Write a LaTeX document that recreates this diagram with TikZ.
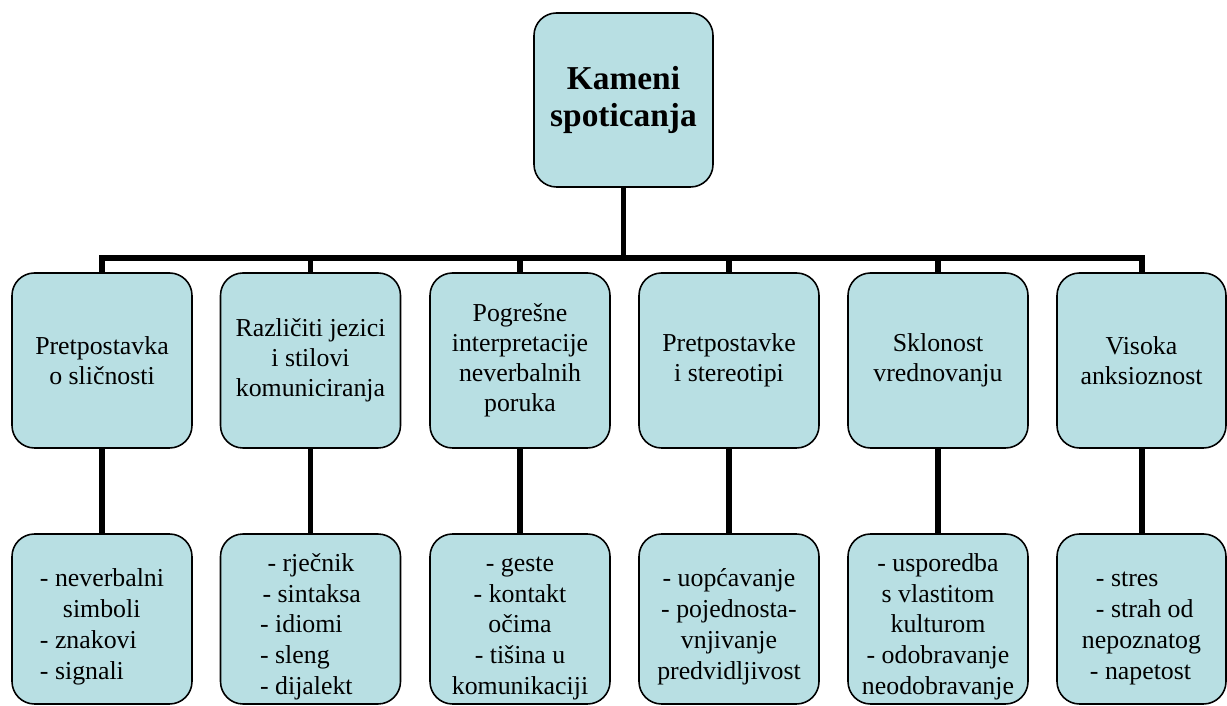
\documentclass[tikz,border=0pt]{standalone}
\usepackage{fontspec}
\setmainfont{Liberation Serif}
\definecolor{boxfill}{RGB}{184,223,227}
\newcommand{\leafstrut}{\rule{0pt}{19pt}}

\begin{document}
\begin{tikzpicture}[thick,
		box/.style={draw=black, line width=0.9pt, fill=boxfill, rounded corners=0.45cm,
			inner sep=0pt, minimum width=3.6cm, align=center,
			font=\fontsize{14.7pt}{17pt}\selectfont},
		leafbox/.style={box, minimum height=3.4cm, font=\fontsize{14.7pt}{17.6pt}\selectfont},
		link/.style={line width=3.4pt}]
	\useasboundingbox (0,0) rectangle (24.54,14.12);
	% root
	\node[box, minimum width=3.58cm, minimum height=3.48cm,
		font=\fontsize{19pt}{21.5pt}\selectfont\bfseries] (top) at (12.47,12.12) {Kameni\\spoticanja};
	
	% obstacles
	\node[box, minimum height=3.5cm] (m1) at (2.04,6.91) {Pretpostavka\\o sličnosti};
	\node[box, minimum height=3.5cm] (m2) at (6.21,6.91) {Različiti jezici\\i stilovi\\komuniciranja};
	\node[box, minimum height=3.5cm] (m3) at (10.40,6.91) {Pogrešne\\interpretacije\\neverbalnih\\poruka};
	\node[box, minimum height=3.5cm] (m4) at (14.58,6.91) {Pretpostavke\\i stereotipi};
	\node[box, minimum height=3.5cm] (m5) at (18.76,6.91) {Sklonost\\vrednovanju};
	\node[box, minimum height=3.5cm, minimum width=3.38cm] (m6) at (22.83,6.91) {Visoka\\anksioznost};
	
	% examples
	\node[leafbox, align=left] (b1) at (2.04,1.74) {\leafstrut- neverbalni\\\hspace*{0.46cm}simboli\\- znakovi\\- signali};
	\node[leafbox, align=left] (b2) at (6.21,1.74) {\leafstrut\hspace*{0.15cm}- rječnik\\\hspace*{0.05cm}- sintaksa\\- idiomi\\- sleng\\- dijalekt};
	\node[leafbox] (b3) at (10.40,1.74) {\leafstrut- geste\\- kontakt\\očima\\- tišina u\\komunikaciji};
	\node[leafbox] (b4) at (14.58,1.74) {\leafstrut- uopćavanje\\- pojednosta-\\vnjivanje\\predvidljivost};
	\node[leafbox] (b5) at (18.76,1.74) {\leafstrut- usporedba\\s vlastitom\\kulturom\\- odobravanje\\neodobravanje};
	\node[leafbox, minimum width=3.38cm, align=left] (b6) at (22.83,1.74) {\leafstrut\hspace*{0.28cm}- stres\\\hspace*{0.28cm}- strah od\\nepoznatog\\\hspace*{0.16cm}- napetost};
	
	% connectors
	\coordinate (bar) at (0,8.96);
	\draw[link] (top.south) -- (top.south |- bar);
	\draw[link] (m1.north) -- (m1.north |- bar) -- (m6.north |- bar) -- (m6.north);
	\foreach \i in {2,...,5}
		\draw[link] (m\i.north |- bar) -- (m\i.north);
	\foreach \i in {1,...,6}
		\draw[link] (m\i.south) -- (b\i.north);
	
\end{tikzpicture}
\end{document}
